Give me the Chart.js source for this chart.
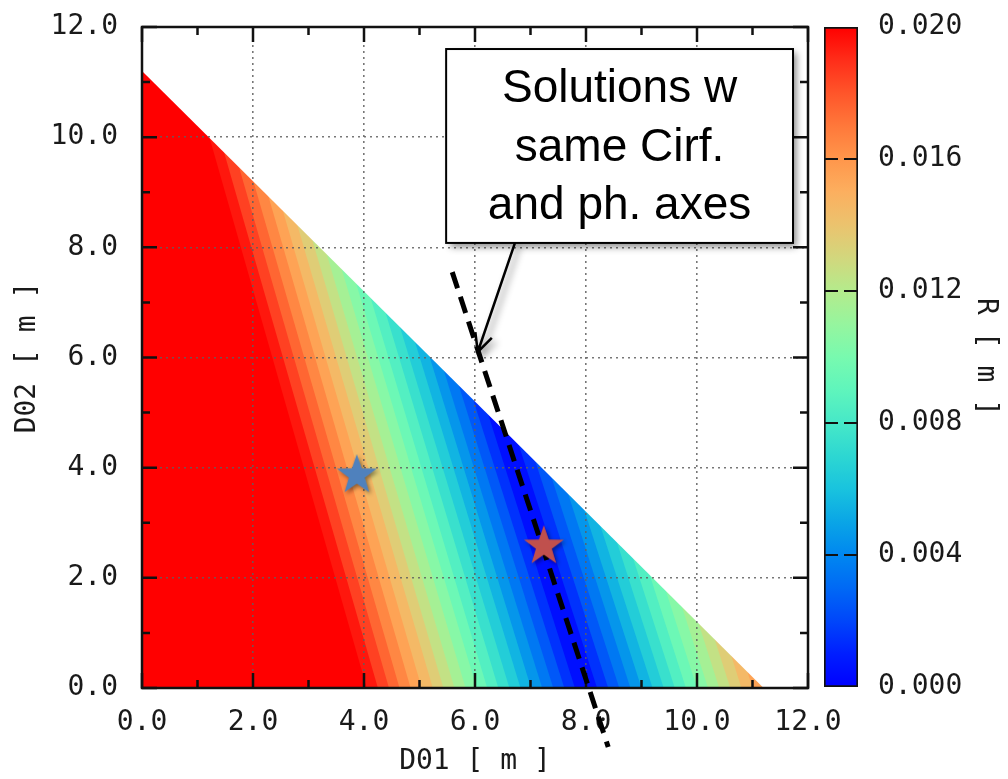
<!DOCTYPE html>
<html>
<head>
<meta charset="utf-8">
<title>R map over D01 / D02</title>
<script src="https://cdn.jsdelivr.net/npm/chart.js@4.4.1/dist/chart.umd.min.js"></script>
<style>
  html, body { margin: 0; padding: 0; background: #fff; }
  #wrap { position: relative; width: 1008px; height: 779px; overflow: hidden; }
  #wrap canvas { position: absolute; top: 0; }
  #main { left: 0; }
  #bar { left: 800px; }
</style>
</head>
<body>
<div id="wrap">
  <canvas id="main" width="1008" height="779"></canvas>
  <canvas id="bar" width="208" height="779"></canvas>
</div>
<script>
// axes
const majorTicks = [0, 2, 4, 6, 8, 10, 12];
const minorTicks = [1, 3, 5, 7, 9, 11];
const barTicks = [0, 0.004, 0.008, 0.012, 0.016, 0.020];
const axisMax = 12;

// solved region ends on the line D01 + D02 = 11.2 m
const edgeSum = 11.2;

// contours of R on the low-D01 side of the valley (R = 0.001 ... 0.020)
// bottomX: D01 where the contour meets D02 = 0, edgeX: D01 where it meets the outer edge
const leftLevels  = [0.001, 0.002, 0.003, 0.004, 0.005, 0.006, 0.007, 0.008, 0.009, 0.010,
                     0.011, 0.012, 0.013, 0.014, 0.015, 0.016, 0.017, 0.018, 0.019, 0.020];
const leftBottomX = [7.80, 7.61, 7.41, 7.21, 7.01, 6.82, 6.62, 6.42, 6.22, 6.03,
                     5.83, 5.63, 5.43, 5.24, 5.04, 4.84, 4.64, 4.45, 4.25, 4.05];
const leftEdgeX   = [6.24, 5.97, 5.71, 5.44, 5.18, 4.92, 4.65, 4.39, 4.12, 3.86,
                     3.60, 3.33, 3.07, 2.80, 2.54, 2.28, 2.01, 1.75, 1.48, 1.22];

// contours on the high-D01 side (R = 0.001 ... 0.015)
const rightLevels  = [0.001, 0.002, 0.003, 0.004, 0.005, 0.006, 0.007, 0.008, 0.009, 0.010,
                      0.011, 0.012, 0.013, 0.014, 0.015];
const rightBottomX = [8.20, 8.40, 8.60, 8.80, 9.00, 9.20, 9.40, 9.60, 9.80, 10.00,
                      10.20, 10.40, 10.60, 10.80, 11.00];
const rightEdgeX   = [6.79, 7.09, 7.38, 7.68, 7.97, 8.26, 8.56, 8.85, 9.15, 9.44,
                      9.73, 10.03, 10.32, 10.62, 10.91];
const cornerR = 0.0155;

// colour bar
const cbStops  = [0, 0.001, 0.002, 0.003, 0.004, 0.005, 0.006, 0.007, 0.008, 0.009, 0.010,
                  0.011, 0.012, 0.013, 0.014, 0.015, 0.016, 0.017, 0.018, 0.019, 0.020];
const cbColors = ['#0000ff', '#001eff', '#0046fa', '#0069f5', '#0087f0', '#0aa5e6', '#19c3de',
                  '#2dd7d2', '#46e8c8', '#5ff5bc', '#78faaf', '#96f59e', '#b4eb8c', '#d2d77d',
                  '#ebc36e', '#fcaf5f', '#ff964b', '#ff783a', '#ff552a', '#ff2d19', '#ff0000'];

// markers and the constant-axes line
const blueStar = [{ x: 3.87, y: 3.90 }];
const redStar  = [{ x: 7.24, y: 2.61 }];
const sameAxesLine = [{ x: 5.59, y: 7.55 }, { x: 8.40, y: -1.07 }];

// call-out
const calloutLines = ['Solutions w', 'same Cirf.', 'and ph. axes'];
const calloutBox = { x0: 5.48, x1: 11.73, y0: 8.08, y1: 11.60 };
const arrowFrom = { x: 6.72, y: 8.08 };
const arrowTo = { x: 6.05, y: 6.10 };

const tickFont = { family: 'DejaVu Sans Mono', size: 28 };
const textColor = '#1a1a1a';

function hexRgb(h) {
  return [1, 3, 5].map(i => parseInt(h.slice(i, i + 2), 16));
}
function colorAt(r) {
  if (r >= cbStops[cbStops.length - 1]) return cbColors[cbColors.length - 1];
  for (let i = 1; i < cbStops.length; i++) {
    if (r <= cbStops[i]) {
      const t = (r - cbStops[i - 1]) / (cbStops[i] - cbStops[i - 1]);
      const a = hexRgb(cbColors[i - 1]), b = hexRgb(cbColors[i]);
      const c = a.map((v, k) => Math.round(v + (b[k] - v) * t));
      return `rgb(${c[0]},${c[1]},${c[2]})`;
    }
  }
  return cbColors[0];
}

function makeStar(fill) {
  const c = document.createElement('canvas');
  c.width = 60; c.height = 60;
  const g = c.getContext('2d');
  const R = 21, r = 8.4, cx = 30, cy = 32;
  g.shadowColor = 'rgba(0,0,0,0.45)';
  g.shadowBlur = 4;
  g.shadowOffsetX = 2;
  g.shadowOffsetY = 2;
  g.beginPath();
  for (let i = 0; i < 10; i++) {
    const a = -Math.PI / 2 + i * Math.PI / 5;
    const rad = i % 2 ? r : R;
    g.lineTo(cx + rad * Math.cos(a), cy + rad * Math.sin(a));
  }
  g.closePath();
  g.fillStyle = fill;
  g.fill();
  return c;
}

// a contour continued straight up to the top of the plot; the part beyond the edge gets masked
function contourPts(bottomX, edgeX) {
  const edgeY = edgeSum - edgeX;
  const topX = bottomX + (edgeX - bottomX) * axisMax / edgeY;
  return [{ x: 0, y: axisMax }, { x: topX, y: axisMax }, { x: bottomX, y: 0 }];
}

// filled regions, painted from the outermost band inwards
// each region is "everything left of a contour", filled down to D02 = 0
const regions = [];
regions.push({ pts: [{ x: 0, y: axisMax }, { x: axisMax, y: axisMax }], color: colorAt(cornerR) });
for (let i = rightLevels.length - 1; i >= 0; i--) {
  regions.push({ pts: contourPts(rightBottomX[i], rightEdgeX[i]), color: colorAt(rightLevels[i] - 0.0005) });
}
for (let i = 0; i < leftLevels.length; i++) {
  const last = i === leftLevels.length - 1;
  regions.push({
    pts: contourPts(leftBottomX[i], leftEdgeX[i]),
    color: last ? cbColors[cbColors.length - 1] : colorAt(leftLevels[i] + 0.0005)
  });
}
// no solutions beyond the outer edge
regions.push({
  pts: [{ x: 0, y: edgeSum }, { x: edgeSum, y: 0 }, { x: axisMax, y: 0 }],
  color: '#ffffff',
  fill: 'end'
});

const datasets = regions.map((reg, k) => ({
  data: reg.pts,
  fill: reg.fill || 'origin',
  backgroundColor: reg.color,
  borderColor: 'rgba(0,0,0,0)',
  borderWidth: 0,
  pointRadius: 0,
  order: 200 - k
}));

datasets.push({
  overlay: true,
  data: sameAxesLine,
  borderColor: '#000',
  borderWidth: 5,
  borderDash: [17, 9],
  pointRadius: 0,
  fill: false,
  order: 0
});
datasets.push({
  overlay: true,
  data: blueStar,
  showLine: false,
  pointStyle: makeStar('#4f81bd'),
  pointRadius: 21,
  order: 0
});
datasets.push({
  overlay: true,
  data: redStar,
  showLine: false,
  pointStyle: makeStar('#c0504d'),
  pointRadius: 21,
  order: 0
});

const framePlugin = {
  id: 'frame',
  beforeDatasetDraw(chart, args) {
    if (chart.data.datasets[args.index].overlay) return false;
  },
  afterDraw(chart) {
    const { ctx, chartArea: a, scales: { x, y } } = chart;
    ctx.save();
    ctx.strokeStyle = '#111';
    ctx.lineWidth = 2.5;
    ctx.beginPath();
    const marks = majorTicks.map(v => [v, 15]).concat(minorTicks.map(v => [v, 8]));
    marks.forEach(([v, len]) => {
      const px = x.getPixelForValue(v);
      const py = y.getPixelForValue(v);
      ctx.moveTo(px, a.bottom); ctx.lineTo(px, a.bottom - len);
      ctx.moveTo(px, a.top); ctx.lineTo(px, a.top + len);
      ctx.moveTo(a.left, py); ctx.lineTo(a.left + len, py);
      ctx.moveTo(a.right, py); ctx.lineTo(a.right - len, py);
    });
    ctx.stroke();
    ctx.strokeRect(a.left, a.top, a.right - a.left, a.bottom - a.top);
    ctx.restore();

    // line and stars go above the grid
    chart.data.datasets.forEach((ds, i) => {
      if (ds.overlay) chart.getDatasetMeta(i).controller.draw();
    });

    // call-out box with arrow
    const bx0 = x.getPixelForValue(calloutBox.x0), bx1 = x.getPixelForValue(calloutBox.x1);
    const by0 = y.getPixelForValue(calloutBox.y1), by1 = y.getPixelForValue(calloutBox.y0);
    const ax0 = x.getPixelForValue(arrowFrom.x), ay0 = y.getPixelForValue(arrowFrom.y);
    const ax1 = x.getPixelForValue(arrowTo.x), ay1 = y.getPixelForValue(arrowTo.y);
    ctx.save();
    ctx.shadowColor = 'rgba(0,0,0,0.45)';
    ctx.shadowBlur = 7;
    ctx.shadowOffsetX = 4;
    ctx.shadowOffsetY = 4;
    ctx.strokeStyle = '#000';
    const ang = Math.atan2(ay1 - ay0, ax1 - ax0);
    ctx.beginPath();
    ctx.moveTo(ax0, ay0);
    ctx.lineTo(ax1, ay1);
    ctx.moveTo(ax1 - 20 * Math.cos(ang - 0.45), ay1 - 20 * Math.sin(ang - 0.45));
    ctx.lineTo(ax1, ay1);
    ctx.lineTo(ax1 - 20 * Math.cos(ang + 0.45), ay1 - 20 * Math.sin(ang + 0.45));
    ctx.lineWidth = 2.5;
    ctx.stroke();
    ctx.fillStyle = '#fff';
    ctx.fillRect(bx0, by0, bx1 - bx0, by1 - by0);
    ctx.shadowColor = 'transparent';
    ctx.lineWidth = 2;
    ctx.strokeRect(bx0, by0, bx1 - bx0, by1 - by0);
    ctx.fillStyle = '#000';
    ctx.font = '46px "Liberation Sans", Arial, sans-serif';
    ctx.textAlign = 'center';
    ctx.textBaseline = 'middle';
    const cx = (bx0 + bx1) / 2, cy = (by0 + by1) / 2 + 2;
    const lh = 58.5;
    calloutLines.forEach((t, i) => {
      ctx.fillText(t, cx, cy + (i - (calloutLines.length - 1) / 2) * lh);
    });
    ctx.restore();
  }
};

new Chart(document.getElementById('main'), {
  type: 'line',
  data: { datasets },
  options: {
    responsive: false,
    animation: false,
    events: [],
    layout: { padding: { left: 0, top: 27, right: 200, bottom: 0 } },
    elements: { line: { tension: 0 } },
    plugins: { legend: { display: false }, tooltip: { enabled: false } },
    scales: {
      x: {
        type: 'linear',
        min: 0,
        max: axisMax,
        afterFit: s => { s.height = 91; },
        ticks: {
          stepSize: 2,
          autoSkip: false,
          maxRotation: 0,
          padding: 18,
          color: textColor,
          font: tickFont,
          callback: v => v.toFixed(1)
        },
        grid: { color: 'rgba(95,95,95,0.85)', lineWidth: 1.6, drawTicks: false, z: 1 },
        border: { display: false, dash: [2, 4] },
        title: { display: true, text: 'D01 [ m ]', color: textColor, font: tickFont, padding: { top: 0, bottom: 0 } }
      },
      y: {
        type: 'linear',
        min: 0,
        max: axisMax,
        afterFit: s => { s.width = 142; s.paddingTop = 0; s.paddingBottom = 0; },
        ticks: {
          stepSize: 2,
          autoSkip: false,
          padding: 24,
          color: textColor,
          font: tickFont,
          callback: v => v.toFixed(1)
        },
        grid: { color: 'rgba(95,95,95,0.85)', lineWidth: 1.6, drawTicks: false, z: 1 },
        border: { display: false, dash: [2, 4] },
        title: { display: true, text: 'D02 [ m ]', color: textColor, font: tickFont, padding: { top: 11, bottom: 0 } }
      }
    }
  },
  plugins: [framePlugin]
});

// colour bar
const barMarks = {
  id: 'barMarks',
  afterDatasetsDraw(chart) {
    const { ctx, chartArea: a, scales: { y } } = chart;
    const mid = (a.left + a.right) / 2;
    ctx.save();
    ctx.strokeStyle = '#111';
    ctx.lineWidth = 2;
    ctx.beginPath();
    barTicks.slice(1, -1).forEach(v => {
      const py = y.getPixelForValue(v);
      ctx.moveTo(a.left, py); ctx.lineTo(mid - 3, py);
      ctx.moveTo(mid + 3, py); ctx.lineTo(a.right, py);
    });
    ctx.stroke();
    ctx.restore();
  }
};

new Chart(document.getElementById('bar'), {
  type: 'bar',
  data: {
    labels: ['R'],
    datasets: [{
      data: [[barTicks[0], barTicks[barTicks.length - 1]]],
      barPercentage: 1,
      categoryPercentage: 1,
      borderColor: '#111',
      borderWidth: 2,
      borderSkipped: false,
      backgroundColor: c => {
        const chart = c.chart;
        if (!chart.chartArea) return cbColors[0];
        const ys = chart.scales.y;
        const g = chart.ctx.createLinearGradient(0, ys.getPixelForValue(0), 0, ys.getPixelForValue(0.02));
        cbStops.forEach((v, i) => g.addColorStop(v / 0.02, cbColors[i]));
        return g;
      }
    }]
  },
  options: {
    responsive: false,
    animation: false,
    events: [],
    layout: { padding: { left: 24, top: 27, right: 0, bottom: 92 } },
    plugins: { legend: { display: false }, tooltip: { enabled: false } },
    scales: {
      x: { display: false },
      y: {
        position: 'right',
        min: 0,
        max: 0.02,
        afterFit: s => { s.width = 150; s.paddingTop = 0; s.paddingBottom = 0; },
        afterBuildTicks: s => { s.ticks = barTicks.map(v => ({ value: v })); },
        ticks: {
          padding: 20,
          color: textColor,
          font: tickFont,
          callback: v => v.toFixed(3)
        },
        grid: { display: false, drawTicks: false },
        border: { display: false },
        title: { display: true, text: 'R [ m ]', color: textColor, font: tickFont, padding: { top: 6, bottom: 0 } }
      }
    }
  },
  plugins: [barMarks]
});
</script>
</body>
</html>
